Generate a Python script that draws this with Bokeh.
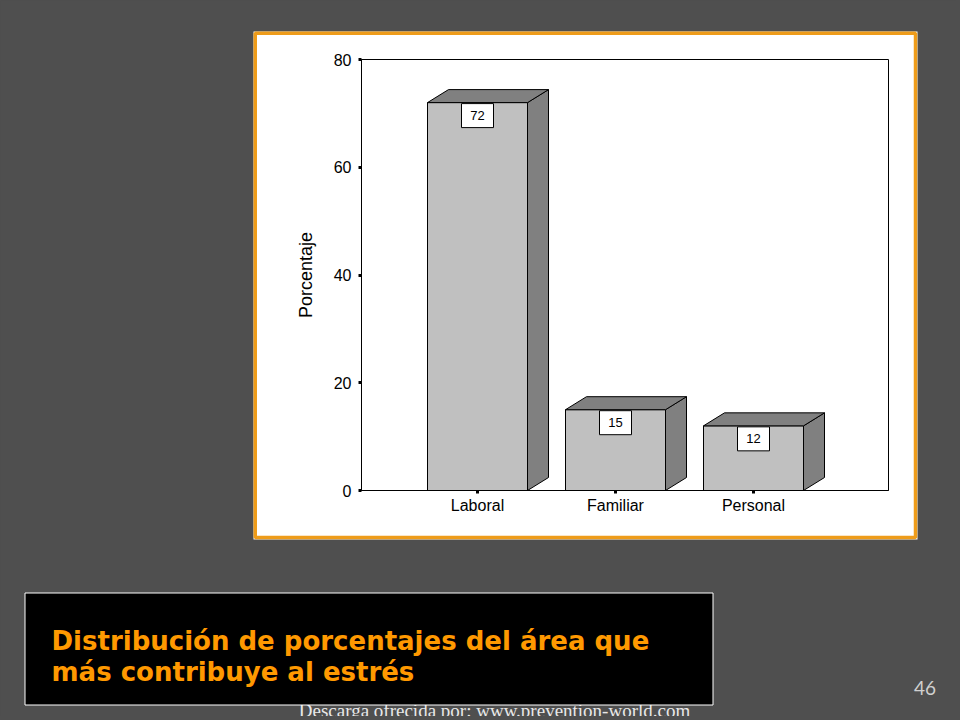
from bokeh.plotting import figure
from bokeh.models import Range1d, LinearAxis, FixedTicker
from bokeh.embed import file_html
from bokeh.resources import INLINE
from bokeh.core.properties import value

# ---------------- data ----------------
categories = ["Laboral", "Familiar", "Personal"]
percentages = [72, 15, 12]
y_ticks = [0, 20, 40, 60, 80]
y_label = "Porcentaje"
caption_lines = ["Distribución de porcentajes del área que", "más contribuye al estrés"]
page_number = "46"
footer_text = "Descarga ofrecida por: www.prevention-world.com"

# ---------------- layout constants (screen px) ----------------
W, H = 956, 716
FL, FR, FT, FB = 361, 888, 59, 490          # chart plot-area edges
GRAY = "#4f4f4f"
ORANGE = "#FF9900"
BORDER_ORANGE = "#EE9C1A"

xs = list(range(len(categories)))
px_per_x = 138.0
x_start = -(477 - FL) / px_per_x
x_end = x_start + (FR - FL) / px_per_x
y_max = 80
px_per_y = (FB - FT) / y_max

# figure: frame covers the whole canvas, default ranges are pixel coordinates
p = figure(width=W, height=H, output_backend="svg", toolbar_location=None,
           x_range=Range1d(0, W), y_range=Range1d(H, 0),
           x_axis_type=None, y_axis_type=None, min_border=0,
           background_fill_color=GRAY, border_fill_color=GRAY)
p.grid.visible = False
p.outline_line_color = None

# chart ranges (mapped over the whole canvas so that the plot area lands at FL..FR, FT..FB)
p.extra_x_ranges = {"cat": Range1d(x_start - FL / px_per_x, x_start + (W - FL) / px_per_x)}
p.extra_y_ranges = {"pct": Range1d((FB - H) / px_per_y, FB / px_per_y)}

# ---------------- white panel with orange border ----------------
p.quad(left=253, right=917, top=31, bottom=539, fill_color="white", line_color=None)
p.quad(left=254.75, right=915, top=32.75, bottom=537, fill_color=None,
       line_color=BORDER_ORANGE, line_width=3.5)

# plot-area outline
p.quad(left=x_start, right=x_end, bottom=0, top=y_max, fill_color=None,
       line_color="black", line_width=1, x_range_name="cat", y_range_name="pct")

# ---------------- 3D bars ----------------
half = 0.5 * 100 / px_per_x
dx = 21 / px_per_x
dy = 13 / px_per_y
lefts = [x - half for x in xs]
rights = [x + half for x in xs]
kw = dict(x_range_name="cat", y_range_name="pct")

p.quad(left=lefts, right=rights, bottom=0, top=percentages,
       fill_color="#C0C0C0", line_color="black", line_width=1, **kw)
side_xs = [[r, r + dx, r + dx, r] for r in rights]
side_ys = [[0, dy, v + dy, v] for v in percentages]
p.patches(side_xs, side_ys, fill_color="#808080", line_color="black", line_width=1, **kw)
top_xs = [[l, l + dx, r + dx, r] for l, r in zip(lefts, rights)]
top_ys = [[v, v + dy, v + dy, v] for v in percentages]
p.patches(top_xs, top_ys, fill_color="#808080", line_color="black", line_width=1, **kw)

# value boxes
box_y = [v - 13 / px_per_y for v in percentages]
p.rect(x=xs, y=box_y, width=32, height=24, width_units="screen", height_units="screen",
       fill_color="white", line_color="black", line_width=1, **kw)
p.text(x=xs, y=box_y, text=[str(v) for v in percentages], text_align="center",
       text_baseline="middle", text_font=value("Liberation Sans"),
       text_font_size="13px", text_color="black", **kw)

# ---------------- axes ----------------
def style_axis(ax):
    ax.axis_line_color = "black"
    ax.axis_line_width = 1
    ax.major_tick_in = 0
    ax.major_tick_out = 3
    ax.major_tick_line_width = 3
    ax.major_tick_line_color = "black"
    ax.minor_tick_out = 0
    ax.minor_tick_in = 0
    ax.major_label_text_font = "Liberation Sans"
    ax.major_label_text_font_size = "16px"
    ax.major_label_text_color = "black"
    ax.axis_label_text_font = "Liberation Sans"
    ax.axis_label_text_font_style = "normal"
    ax.axis_label_text_font_size = "18px"
    ax.axis_label_text_color = "black"

yaxis = LinearAxis(y_range_name="pct", fixed_location=FL, bounds=(0, y_max),
                   ticker=FixedTicker(ticks=y_ticks), axis_label=y_label)
style_axis(yaxis)
yaxis.major_label_standoff = 7
yaxis.axis_label_standoff = 15
p.add_layout(yaxis, "left")

xaxis = LinearAxis(x_range_name="cat", fixed_location=FB, bounds=(x_start, x_end),
                   ticker=FixedTicker(ticks=xs),
                   major_label_overrides={i: c for i, c in zip(xs, categories)})
style_axis(xaxis)
xaxis.major_label_standoff = 3
p.add_layout(xaxis, "below")

# ---------------- caption area ----------------
# footer (partly hidden behind caption box)
p.text(x=[494], y=[710], text=[footer_text], text_font=value("Liberation Serif"),
       text_font_size="19px", text_color="#e8e8e8", text_align="center",
       text_baseline="alphabetic")
# caption box
p.quad(left=24.5, right=712.5, top=592.5, bottom=704.5, fill_color="black",
       line_color="white", line_width=1)
p.text(x=[51, 51], y=[640, 671], text=caption_lines, text_font=value("DejaVu Sans"),
       text_font_style="bold", text_font_size="26px", text_color=ORANGE,
       text_align="left", text_baseline="alphabetic")
# page number
p.text(x=[924.5], y=[687], text=[page_number], text_font=value("Lato"),
       text_font_size="19px", text_color="#d0d0d0", text_align="center",
       text_baseline="alphabetic")

html = file_html(p, INLINE)
html = html.replace("</head>", "<style>html, body { background-color: #4f4f4f; }</style></head>", 1)
open("out.html", "w").write(html)
